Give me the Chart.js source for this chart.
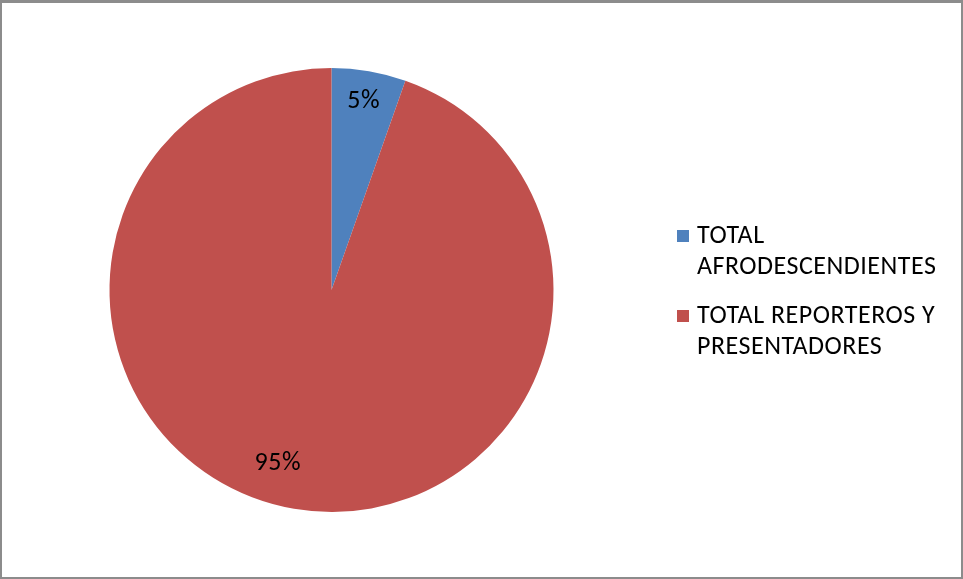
<!DOCTYPE html>
<html>
<head>
<meta charset="utf-8">
<script src="https://cdn.jsdelivr.net/npm/chart.js@4/dist/chart.umd.min.js"></script>
<style>
  html, body { margin: 0; padding: 0; background: #fff; }
  #wrap { position: relative; width: 963px; height: 579px; box-sizing: border-box; border: 2px solid #8c8c8c; border-top-width: 3px; }
  #can { position: absolute; left: -2px; top: -3px; }
</style>
</head>
<body>
<div id="wrap"><canvas id="can" width="963" height="579"></canvas></div>
<script>
// datos del grafico
let categorias = [
    ['TOTAL', 'AFRODESCENDIENTES'],
    ['TOTAL REPORTEROS Y', 'PRESENTADORES']
]
let valores = [5.4, 94.6]
let colores = ['#4F81BD', '#C0504D']

window.onload = function(){

    let fuente = "Carlito, 'Liberation Sans', Arial, sans-serif"

    // etiquetas de porcentaje dentro de las porciones
    const etiquetasPlugin = {
        id: 'etiquetas',
        afterDatasetsDraw(chart) {
            const ctx = chart.ctx
            const meta = chart.getDatasetMeta(0)
            const suma = valores.reduce((a, b) => a + b, 0)
            let radio = [0.86, 0.82]
            let giro = [0, 0.13]
            ctx.save()
            ctx.font = "26px " + fuente
            ctx.letterSpacing = '0.5px'
            ctx.fillStyle = '#000'
            ctx.textAlign = 'center'
            ctx.textBaseline = 'middle'
            meta.data.forEach((arc, i) => {
                const p = arc.getProps(['x', 'y', 'startAngle', 'endAngle', 'outerRadius'], true)
                const ang = (p.startAngle + p.endAngle) / 2 + giro[i]
                const r = p.outerRadius * radio[i]
                const txt = Math.round(valores[i] / suma * 100) + '%'
                ctx.fillText(txt, p.x + Math.cos(ang) * r, p.y + Math.sin(ang) * r)
            })
            ctx.restore()
        }
    }

    // leyenda a la derecha con texto en dos lineas
    const leyendaPlugin = {
        id: 'leyenda',
        afterDraw(chart) {
            const ctx = chart.ctx
            let x = 677
            let y = [236, 316]
            ctx.save()
            ctx.font = "26px " + fuente
            ctx.letterSpacing = '0.5px'
            ctx.textBaseline = 'middle'
            categorias.forEach((lineas, i) => {
                ctx.fillStyle = colores[i]
                ctx.fillRect(x, y[i] - 6, 12, 12)
                ctx.fillStyle = '#000'
                lineas.forEach((l, j) => {
                    ctx.fillText(l, x + 20, y[i] + j * 31)
                })
            })
            ctx.restore()
        }
    }

    let grafico = new Chart(document.getElementById('can'), {
        type: 'pie',
        data: {
            labels: categorias.map(c => c.join(' ')),
            datasets: [{
                data: valores,
                backgroundColor: colores,
                borderWidth: 0
            }]
        },
        options: {
            responsive: false,
            animation: false,
            layout: {
                padding: { left: 109, right: 409, top: 68, bottom: 67 }
            },
            plugins: {
                legend: { display: false },
                tooltip: { enabled: false }
            }
        },
        plugins: [etiquetasPlugin, leyendaPlugin]
    })

}
</script>
</body>
</html>
